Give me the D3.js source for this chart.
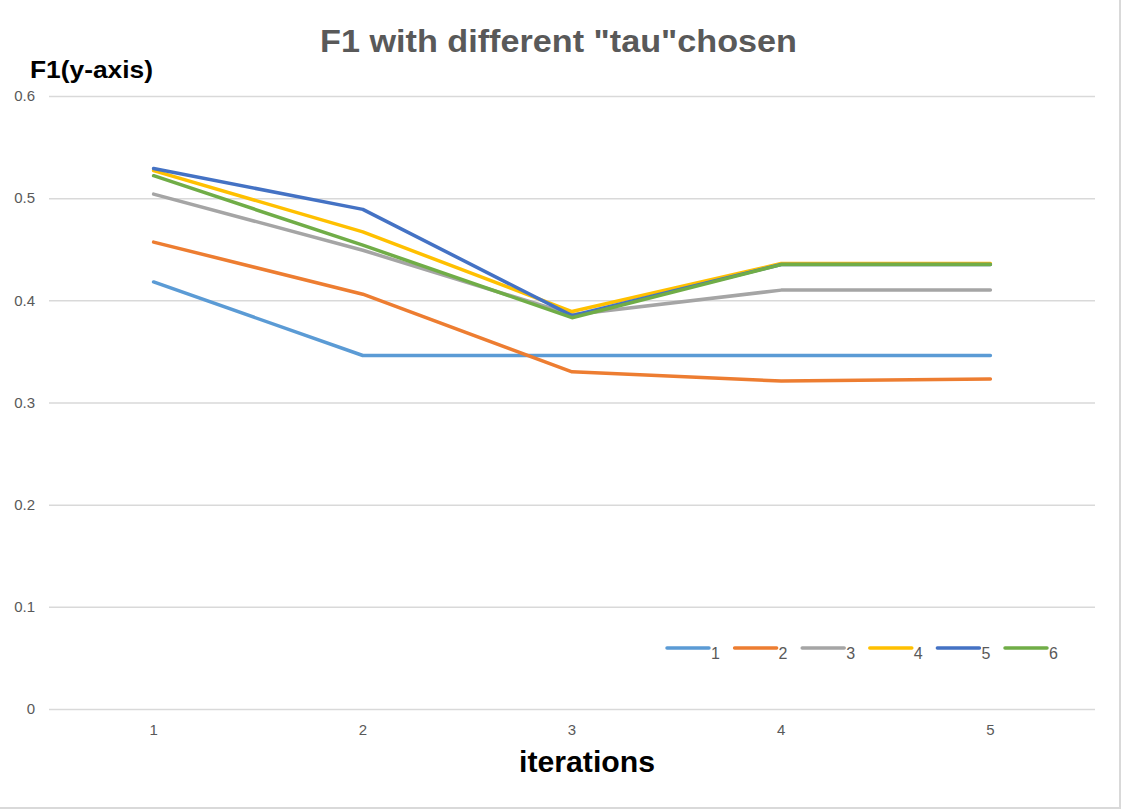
<!DOCTYPE html>
<html>
<head>
<meta charset="utf-8">
<script src="https://cdn.jsdelivr.net/npm/d3@7"></script>
<style>
body { margin: 0; background: #fff; }
text { font-family: "Liberation Sans", sans-serif; }
</style>
</head>
<body>
<div id="chart"></div>
<script>
// data
var iterations = ["1", "2", "3", "4", "5"]
var seriesNames = ["1", "2", "3", "4", "5", "6"]
var s1 = [0.418, 0.346, 0.346, 0.346, 0.346]
var s2 = [0.457, 0.406, 0.330, 0.321, 0.323]
var s3 = [0.504, 0.449, 0.386, 0.410, 0.410]
var s4 = [0.527, 0.467, 0.389, 0.436, 0.436]
var s5 = [0.529, 0.489, 0.385, 0.435, 0.435]
var s6 = [0.522, 0.454, 0.383, 0.435, 0.435]
var yTicks = [0, 0.1, 0.2, 0.3, 0.4, 0.5, 0.6]
var colors = ["#5b9bd5", "#ed7d31", "#a5a5a5", "#ffc000", "#4472c4", "#70ad47"]

var allSeries = [s1, s2, s3, s4, s5, s6]

var width = 1122, height = 810
var margin = {top: 96, right: 27, bottom: 101, left: 49}

var svg = d3.select("#chart")
  .append("svg")
  .attr("width", width)
  .attr("height", height)

// frame (only right and bottom edges show in the picture)
svg.append("line").attr("x1", 1120).attr("x2", 1120).attr("y1", 0).attr("y2", 809)
  .attr("stroke", "#d9d9d9").attr("stroke-width", 2)
svg.append("line").attr("x1", 0).attr("x2", 1121).attr("y1", 808).attr("y2", 808)
  .attr("stroke", "#d9d9d9").attr("stroke-width", 2)

var x = d3.scaleBand()
  .domain(iterations)
  .range([margin.left, width - margin.right])

var y = d3.scaleLinear()
  .domain([0, 0.6])
  .range([height - margin.bottom, margin.top])

// gridlines + y labels
var yAxis = svg.append("g")
  .attr("transform", "translate(" + margin.left + ",0)")
  .call(d3.axisLeft(y).tickValues(yTicks).tickSize(-(width - margin.left - margin.right)).tickPadding(14).tickFormat(d3.format("")))
yAxis.select(".domain").remove()
yAxis.selectAll(".tick line").attr("stroke", "#d9d9d9").attr("stroke-width", 1.5)
yAxis.selectAll(".tick text").attr("fill", "#595959").style("font-size", "15px")

// x labels
var xAxis = svg.append("g")
  .attr("transform", "translate(0," + (height - margin.bottom) + ")")
  .call(d3.axisBottom(x).tickSize(0).tickPadding(15))
xAxis.select(".domain").remove()
xAxis.selectAll(".tick text").attr("fill", "#595959").style("font-size", "15px")

// lines
var line = d3.line()
  .x(function(d, i) { return x(iterations[i]) + x.bandwidth() / 2 })
  .y(function(d) { return y(d) })

svg.selectAll(".series")
  .data(allSeries)
  .enter()
  .append("path")
  .attr("class", "series")
  .attr("fill", "none")
  .attr("stroke", function(d, i) { return colors[i] })
  .attr("stroke-width", 3.5)
  .attr("stroke-linejoin", "round")
  .attr("stroke-linecap", "round")
  .attr("d", line)

// legend
var legend = svg.selectAll(".legend")
  .data(seriesNames)
  .enter()
  .append("g")
  .attr("class", "legend")
  .attr("transform", function(d, i) { return "translate(" + (667 + i * 67.6) + ",648)" })
legend.append("line")
  .attr("x1", 0).attr("x2", 42)
  .attr("stroke", function(d, i) { return colors[i] })
  .attr("stroke-width", 3.5)
  .attr("stroke-linecap", "round")
legend.append("text")
  .attr("x", 44).attr("y", 11)
  .attr("fill", "#595959")
  .style("font-size", "16px")
  .text(function(d) { return d })

// titles
svg.append("text")
  .attr("x", 320).attr("y", 52)
  .attr("fill", "#595959")
  .attr("textLength", 477)
  .attr("lengthAdjust", "spacingAndGlyphs")
  .style("font-size", "32px")
  .style("font-weight", "bold")
  .text('F1 with different "tau"chosen')

svg.append("text")
  .attr("x", 30).attr("y", 78)
  .attr("fill", "#000")
  .attr("textLength", 123)
  .attr("lengthAdjust", "spacingAndGlyphs")
  .style("font-size", "23px")
  .style("font-weight", "bold")
  .text("F1(y-axis)")

svg.append("text")
  .attr("x", 519).attr("y", 772)
  .attr("fill", "#000")
  .attr("textLength", 136)
  .attr("lengthAdjust", "spacingAndGlyphs")
  .style("font-size", "29px")
  .style("font-weight", "bold")
  .text("iterations")
</script>
</body>
</html>
